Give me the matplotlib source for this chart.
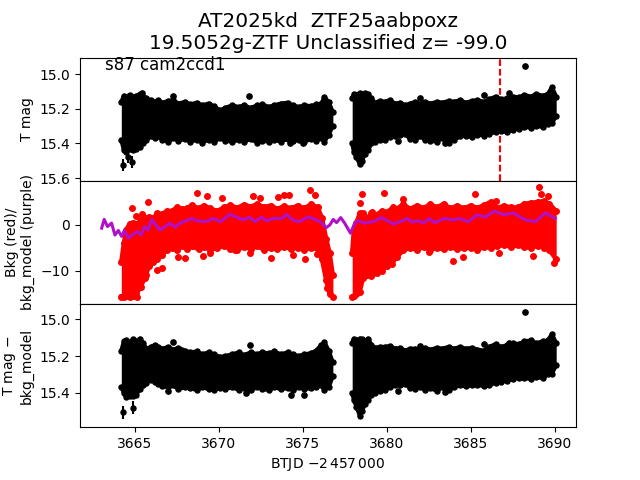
import matplotlib
matplotlib.use('Agg')
from matplotlib import pyplot as plt

# light curve envelopes (BTJD, mag)
t_a = [3664.2, 3664.35, 3664.5, 3664.7, 3664.9, 3665.1, 3665.3, 3665.5, 3665.7, 3665.95, 3666.2, 3666.4, 3666.65,
       3667.0, 3667.3, 3667.6, 3668.0, 3668.3, 3668.7, 3669.0, 3669.4, 3669.7, 3670.1, 3670.4, 3670.8, 3671.2, 3671.5,
       3671.9, 3672.3, 3672.6, 3673.0, 3673.3, 3673.7, 3674.1, 3674.4, 3674.8, 3675.1, 3675.5, 3675.8, 3676.1, 3676.3,
       3676.55, 3676.8]
t_b = [3677.95, 3678.05, 3678.2, 3678.4, 3678.55, 3678.7, 3678.9, 3679.1, 3679.3, 3679.6, 3679.9, 3680.2, 3680.5,
       3680.8, 3681.1, 3681.4, 3681.7, 3682.0, 3682.3, 3682.6, 3683.0, 3683.3, 3683.7, 3684.0, 3684.4, 3684.7, 3685.1,
       3685.4, 3685.8, 3686.1, 3686.5, 3686.8, 3687.2, 3687.5, 3687.9, 3688.2, 3688.6, 3688.9, 3689.3, 3689.6, 3689.85,
       3690.1]

mag_top_a = [15.16, 15.125, 15.13, 15.12, 15.135, 15.125, 15.115, 15.13, 15.14, 15.15, 15.16, 15.15, 15.165,
             15.155, 15.15, 15.17, 15.16, 15.175, 15.165, 15.18, 15.17, 15.185, 15.21, 15.195, 15.18, 15.19, 15.18,
             15.195, 15.18, 15.175, 15.19, 15.18, 15.17, 15.165, 15.18, 15.19, 15.18, 15.185, 15.175, 15.17, 15.135,
             15.16, 15.22]
mag_bot_a = [15.38, 15.44, 15.45, 15.43, 15.44, 15.43, 15.42, 15.40, 15.38, 15.36, 15.37, 15.36, 15.38,
             15.39, 15.37, 15.385, 15.375, 15.39, 15.38, 15.395, 15.38, 15.39, 15.37, 15.385, 15.39, 15.38, 15.39,
             15.375, 15.395, 15.385, 15.39, 15.38, 15.39, 15.375, 15.385, 15.38, 15.39, 15.375, 15.385, 15.37, 15.39,
             15.35, 15.30]
mag_top_b = [15.14, 15.115, 15.12, 15.11, 15.12, 15.11, 15.115, 15.14, 15.165, 15.155, 15.16, 15.15, 15.17,
             15.165, 15.18, 15.17, 15.16, 15.175, 15.16, 15.17, 15.16, 15.165, 15.155, 15.16, 15.15, 15.165, 15.155,
             15.15, 15.16, 15.145, 15.13, 15.145, 15.14, 15.13, 15.135, 15.12, 15.13, 15.115, 15.125, 15.115, 15.075,
             15.13]
mag_bot_b = [15.40, 15.45, 15.48, 15.52, 15.50, 15.46, 15.44, 15.40, 15.39, 15.38, 15.38, 15.365, 15.36,
             15.35, 15.345, 15.375, 15.38, 15.36, 15.38, 15.385, 15.39, 15.37, 15.395, 15.38, 15.36, 15.355, 15.365,
             15.35, 15.355, 15.345, 15.335, 15.33, 15.335, 15.32, 15.315, 15.305, 15.31, 15.30, 15.305, 15.29, 15.285,
             15.24]
tail_t = [3664.28, 3664.58, 3664.85]
tail_mag = [15.525, 15.48, 15.507]
dot_t = [3665.45, 3667.3, 3671.8, 3674.25, 3675.05, 3680.65, 3682.0, 3683.5, 3685.8, 3687.3, 3688.25]
dot_mag = [15.11, 15.127, 15.127, 15.40, 15.40, 15.385, 15.14, 15.40, 15.12, 15.11, 14.955]

# background, red points
r_a = [3664.2, 3664.35, 3664.5, 3664.7, 3664.9, 3665.1, 3665.35, 3665.6, 3665.85, 3666.1, 3666.35, 3666.6, 3666.9,
       3667.2, 3667.5, 3667.8, 3668.1, 3668.4, 3668.8, 3669.1, 3669.5, 3669.9, 3670.3, 3670.7, 3671.1, 3671.5, 3671.9,
       3672.3, 3672.7, 3673.1, 3673.5, 3673.9, 3674.3, 3674.7, 3675.1, 3675.5, 3675.9, 3676.15, 3676.4, 3676.6, 3676.8]
bkg_top_a = [-8.0, -4.0, -1.0, 0.3, 0.5, 0.2, 1.0, 1.5, 1.8, 1.5, 2.5, 2.3, 3.0,
             3.0, 3.8, 3.5, 3.6, 4.3, 3.6, 4.2, 3.6, 3.0, 3.8, 4.3, 3.7, 4.4, 4.0,
             4.5, 3.9, 4.2, 3.5, 4.1, 3.6, 4.2, 3.6, 4.5, 3.8, 1.5, -3.0, -6.0, -11.0]
bkg_bot_a = [-15.6, -15.7, -15.5, -15.7, -15.5, -15.0, -13.5, -11.5, -9.0, -8.0, -7.5, -6.5, -5.5,
             -5.0, -5.5, -4.5, -5.2, -4.6, -5.3, -4.8, -5.4, -5.0, -4.6, -5.2, -5.4, -4.8, -5.2,
             -4.6, -5.4, -5.0, -5.3, -4.8, -5.2, -5.0, -5.4, -5.0, -5.3, -7.5, -12.0, -15.0, -15.7]
r_b = [3677.95, 3678.05, 3678.2, 3678.4, 3678.6, 3678.85, 3679.1, 3679.4, 3679.7, 3680.0, 3680.3, 3680.6, 3681.0,
       3681.4, 3681.8, 3682.2, 3682.6, 3683.0, 3683.4, 3683.8, 3684.2, 3684.6, 3685.0, 3685.4, 3685.8, 3686.2, 3686.6,
       3687.0, 3687.4, 3687.8, 3688.2, 3688.6, 3689.0, 3689.4, 3689.7, 3690.1]
bkg_top_b = [-6.0, -1.0, 0.5, 2.5, 2.5, 1.5, 2.5, 2.2, 3.0, 2.8, 3.5, 3.5, 4.5,
             3.5, 4.2, 3.7, 4.5, 3.8, 4.6, 3.6, 4.2, 3.6, 4.2, 3.7, 4.3, 5.0, 3.7,
             4.2, 3.8, 3.8, 4.6, 4.8, 5.0, 5.2, 4.6, 3.0]
bkg_bot_b = [-15.6, -15.5, -15.0, -14.5, -11.5, -11.0, -11.2, -10.5, -10.0, -9.0, -8.5, -7.0, -5.5,
             -5.0, -5.4, -4.8, -5.4, -5.0, -5.3, -4.8, -5.3, -5.0, -5.0, -5.4, -4.8, -5.0, -4.6,
             -4.3, -4.8, -4.4, -4.8, -5.0, -4.5, -5.0, -5.5, -7.5]
bkg_out_t = [3664.85, 3665.1, 3665.45, 3665.8, 3668.7, 3669.3, 3670.2, 3672.05, 3672.45, 3673.55, 3673.9, 3674.2, 3675.45,
             3675.75, 3665.15, 3665.7, 3666.3, 3666.65, 3667.6, 3668.0, 3669.05, 3669.5, 3671.0, 3671.85, 3673.1, 3674.45,
             3675.15, 3675.85, 3676.45, 3678.4, 3678.55, 3679.15, 3679.85, 3680.4, 3681.0, 3682.55, 3683.95, 3684.55,
             3685.25, 3686.5, 3686.7, 3688.7, 3689.05, 3689.2, 3689.6, 3689.95]
bkg_out_v = [3.7, 2.0, 2.3, 5.0, 6.9, 6.2, 5.9, 6.2, 5.9, 6.1, 6.5, 6.6, 7.5,
             6.5, -15.6, -11.0, -9.8, -9.3, -7.0, -7.2, -6.7, -6.1, -5.4, -6.1, -7.2, -6.5,
             -7.5, -6.3, -13.8, 4.8, 6.7, 2.8, 7.0, 3.8, 5.7, -5.9, -7.8, -7.0,
             6.7, 5.3, -6.2, -6.7, 8.3, 6.8, 6.4, -8.3]

# bkg_model, purple line
model_t = [3663.03, 3663.18, 3663.38, 3663.62, 3663.82, 3664.02, 3664.22, 3664.38, 3664.62, 3664.98, 3665.18, 3665.38,
           3665.58, 3665.8, 3666.0, 3666.5, 3667.1, 3667.4, 3667.7, 3668.4, 3668.7, 3669.2, 3669.7, 3670.1, 3670.65,
           3671.45, 3671.85, 3672.15, 3672.55, 3672.85, 3673.25, 3673.75, 3674.05, 3674.4, 3674.8, 3675.35, 3676.05,
           3676.4, 3676.62, 3676.82, 3677.02, 3677.27, 3677.5, 3677.85, 3678.1, 3678.3, 3678.7, 3679.2, 3679.7, 3680.4,
           3680.8, 3681.25, 3681.5, 3681.9, 3682.2, 3682.55, 3682.85, 3683.45, 3683.95, 3684.35, 3684.85, 3685.4,
           3685.9, 3686.4, 3687.0, 3687.55, 3688.25, 3688.85, 3689.45, 3690.05]
model_v = [-0.7, 1.2, -0.35, 0.4, -2.2, -1.2, -2.5, -1.2, -2.9, -1.8, -1.45, -2.2,
           -0.35, -1.1, 1.2, -1.1, 0.4, -0.5, 0.4, 1.4, 0.9, 0.7, 1.4, 0.7, 2.3,
           1.1, 1.7, 0.7, 1.7, 0.9, 1.4, 1.4, 2.3, 1.1, 0.7, 1.8, 0.7,
           -0.6, 0.0, 1.2, 0.5, 1.6, 0.4, -1.8, 0.4, 0.9, 0.4, 0.7, 1.6, 0.2,
           0.7, 1.4, 0.6, 0.9, 0.4, 1.4, 0.5, 1.4, 1.1, 1.4, 0.7, 2.2,
           1.7, 3.0, 2.2, 2.6, 1.1, 0.7, 2.6, 1.4]

# bkg-corrected magnitudes
corr_top_a = [15.17, 15.12, 15.115, 15.125, 15.11, 15.12, 15.105, 15.13, 15.16, 15.15, 15.14, 15.15, 15.16,
              15.15, 15.165, 15.155, 15.17, 15.18, 15.175, 15.19, 15.18, 15.19, 15.205, 15.20, 15.19, 15.18, 15.195,
              15.18, 15.19, 15.18, 15.185, 15.175, 15.19, 15.18, 15.19, 15.20, 15.19, 15.185, 15.17, 15.14, 15.125,
              15.17, 15.235]
corr_bot_a = [15.37, 15.40, 15.425, 15.42, 15.415, 15.41, 15.38, 15.36, 15.345, 15.33, 15.34, 15.35, 15.365,
              15.37, 15.36, 15.38, 15.37, 15.375, 15.385, 15.37, 15.38, 15.385, 15.375, 15.38, 15.37, 15.385, 15.375,
              15.385, 15.37, 15.38, 15.385, 15.37, 15.38, 15.375, 15.385, 15.37, 15.38, 15.375, 15.37, 15.36, 15.385,
              15.37, 15.31]
corr_top_b = [15.13, 15.105, 15.115, 15.105, 15.11, 15.12, 15.105, 15.14, 15.155, 15.15, 15.15, 15.145, 15.16,
              15.155, 15.17, 15.16, 15.16, 15.17, 15.155, 15.165, 15.155, 15.16, 15.15, 15.16, 15.15, 15.16, 15.155,
              15.165, 15.17, 15.15, 15.135, 15.15, 15.14, 15.13, 15.135, 15.12, 15.115, 15.13, 15.12, 15.115, 15.08,
              15.13]
corr_bot_b = [15.40, 15.44, 15.475, 15.525, 15.50, 15.46, 15.44, 15.41, 15.40, 15.39, 15.385, 15.37, 15.36,
              15.355, 15.35, 15.375, 15.38, 15.37, 15.385, 15.375, 15.39, 15.37, 15.385, 15.37, 15.36, 15.365, 15.36,
              15.355, 15.365, 15.36, 15.345, 15.34, 15.335, 15.325, 15.32, 15.32, 15.325, 15.315, 15.32, 15.30, 15.295,
              15.25]
corr_tail_t = [3664.28, 3664.88]
corr_tail_mag = [15.507, 15.48]
corr_dot_t = [3667.0, 3667.3, 3671.65, 3671.85, 3674.3, 3675.07, 3680.65, 3682.0, 3683.5, 3685.8, 3687.3, 3688.25]
corr_dot_mag = [15.39, 15.125, 15.40, 15.14, 15.41, 15.41, 15.39, 15.146, 15.395, 15.135, 15.13, 14.962]

peak_t = 3686.76
tick_x = [3665, 3670, 3675, 3680, 3685, 3690]


def draw_mass(ax, t, top, bot, colour, size=3.6):
    ax.fill_between(t, top, bot, color=colour, lw=0, zorder=2)
    # thick edge lines close the notches between the dots
    ax.plot(t, top, 'o-', color=colour, ms=size, lw=size * 0.8, zorder=2)
    ax.plot(t, bot, 'o-', color=colour, ms=size, lw=size * 0.8, zorder=2)


fig, axes = plt.subplots(3, 1, sharex=True)
plt.subplots_adjust(hspace=0)
ax1, ax2, ax3 = axes

# top panel
ax1.axvline(peak_t, color='r', ls='--', lw=1.5, dashes=(3.2, 1.4), zorder=1)
draw_mass(ax1, t_a, mag_top_a, mag_bot_a, 'k')
draw_mass(ax1, t_b, mag_top_b, mag_bot_b, 'k')
ax1.errorbar(tail_t, tail_mag, yerr=0.035, fmt='o', color='k', ms=3.6, lw=1.5)
ax1.plot(dot_t, dot_mag, 'o', color='k', ms=3.8)
ax1.set_ylim(15.616, 14.905)
ax1.set_yticks([15.0, 15.2, 15.4, 15.6])
ax1.set_ylabel('T mag')
ax1.text(3663.22, 15.0, 's87 cam2ccd1', fontsize=12, va='bottom')

# middle panel
draw_mass(ax2, r_a, bkg_top_a, bkg_bot_a, 'r', size=4)
draw_mass(ax2, r_b, bkg_top_b, bkg_bot_b, 'r', size=4)
ax2.plot(bkg_out_t, bkg_out_v, 'o', color='r', ms=4)
ax2.plot(model_t, model_v, '-', color='#b010c8', lw=2.2, zorder=3)
ax2.set_ylim(-17.2, 9.6)
ax2.set_yticks([-10, 0])
ax2.set_ylabel('Bkg (red)/\nbkg_model (purple)')

# bottom panel
draw_mass(ax3, t_a, corr_top_a, corr_bot_a, 'k')
draw_mass(ax3, t_b, corr_top_b, corr_bot_b, 'k')
ax3.errorbar(corr_tail_t, corr_tail_mag, yerr=0.035, fmt='o', color='k', ms=3.6, lw=1.5)
ax3.plot(corr_dot_t, corr_dot_mag, 'o', color='k', ms=3.8)
ax3.set_ylim(15.587, 14.917)
ax3.set_yticks([15.0, 15.2, 15.4])
ax3.set_ylabel('T mag $-$\nbkg_model')

ax3.set_xlim(3661.74, 3691.28)
ax3.set_xticks(tick_x)
ax3.set_xlabel('BTJD $-2\\,457\\,000$')

fig.suptitle('AT2025kd  ZTF25aabpoxz\n19.5052g-ZTF Unclassified z= -99.0', fontsize=14.4, x=0.5125, y=0.975)

fig.savefig('out.png', dpi=100)
